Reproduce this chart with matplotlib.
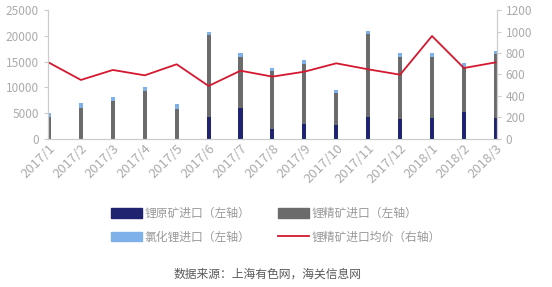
import numpy as np
import matplotlib
matplotlib.use("Agg")
import matplotlib.pyplot as plt
import matplotlib.transforms as mtransforms
from matplotlib.patches import Patch
from matplotlib.lines import Line2D

plt.rcParams['font.family'] = ['Noto Sans CJK SC', 'DejaVu Sans']

months = ["2017/1", "2017/2", "2017/3", "2017/4", "2017/5", "2017/6", "2017/7", "2017/8",
          "2017/9", "2017/10", "2017/11", "2017/12", "2018/1", "2018/2", "2018/3"]
raw_ore = [0, 0, 0, 0, 0, 4300, 6000, 2000, 2800, 2700, 4300, 3800, 4100, 5300, 4100]
concentrate = [4300, 5900, 7400, 9300, 5800, 15800, 9800, 11100, 11800, 6200, 16100, 12100, 11800, 8700, 12300]
chloride = [700, 1100, 700, 800, 1000, 700, 800, 600, 700, 600, 600, 700, 800, 800, 700]
avg_price = [710, 549, 642, 592, 695, 493, 635, 580, 626, 704, 648, 598, 958, 660, 713]

c_raw = "#1f2370"
c_con = "#6b6b6b"
c_chl = "#7eb0ea"
c_red = "#d4182f"
c_tick = "#ababab"
c_axis = "#cccccc"

fig = plt.figure(figsize=(5.52, 2.87), dpi=100)
ax = fig.add_axes([0.087, 0.516, 0.813, 0.449])
ax2 = ax.twinx()

x = np.arange(len(months))
w = 0.13
raw = np.array(raw_ore)
con = np.array(concentrate)
chl = np.array(chloride)
ax.bar(x, raw, w, color=c_raw, zorder=2)
ax.bar(x, con, w, bottom=raw, color=c_con, zorder=2)
ax.bar(x, chl, w, bottom=raw + con, color=c_chl, zorder=2)

ax2.plot(x, avg_price, color=c_red, lw=1.3)

ax.set_xlim(-0.03, 14.03)
ax.set_ylim(0, 25000)
ax.set_yticks(range(0, 25001, 5000))
ax2.set_ylim(0, 1200)
ax2.set_yticks(range(0, 1201, 200))

ax.set_xticks(x)
ax.set_xticklabels(months, rotation=45, ha="right", rotation_mode="anchor", fontsize=9.5)
shift = mtransforms.ScaledTranslation(5 / 100, -6 / 100, fig.dpi_scale_trans)
for lab in ax.get_xticklabels():
    lab.set_transform(lab.get_transform() + shift)

for a in (ax, ax2):
    a.spines['top'].set_visible(False)
    for s in ('left', 'right', 'bottom'):
        a.spines[s].set_color(c_axis)
        a.spines[s].set_linewidth(0.8)
    a.tick_params(axis='y', colors=c_tick, labelsize=8.5, length=3, width=0.8)
    a.tick_params(axis='y', color=c_axis)
ax.tick_params(axis='x', colors=c_tick, length=0, pad=2)

handles = [
    Patch(color=c_raw, label="锂原矿进口（左轴）"),
    Patch(color=c_chl, label="氯化锂进口（左轴）"),
    Patch(color=c_con, label="锂精矿进口（左轴）"),
    Line2D([0], [0], color=c_red, lw=1.3, label="锂精矿进口均价（右轴）"),
]
leg = fig.legend(handles=handles, ncol=2, loc="center", bbox_to_anchor=(0.5, 0.215),
                 frameon=False, fontsize=8.5, handlelength=2.6, handleheight=0.9,
                 handletextpad=0.2, columnspacing=2.4, labelspacing=0.9)
for t in leg.get_texts():
    t.set_color("#999999")

fig.text(0.485, 0.045, "数据来源：上海有色网，海关信息网", ha="center", va="center",
         fontsize=8.5, color="#595959")

fig.savefig("out.png", dpi=100)
